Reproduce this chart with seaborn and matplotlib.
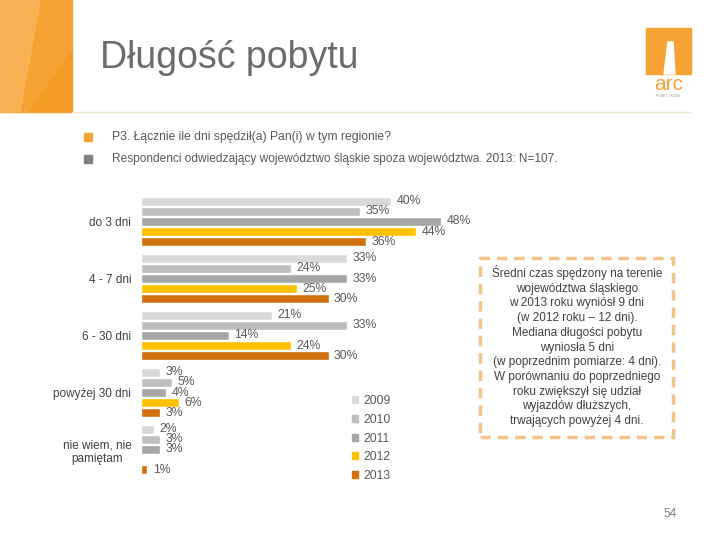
import matplotlib
matplotlib.use("Agg")
import matplotlib.pyplot as plt
from matplotlib.patches import Rectangle, Patch, Polygon
import seaborn as sns
import pandas as pd
import numpy as np

categories = ["do 3 dni", "4 - 7 dni", "6 - 30 dni", "powyżej 30 dni", "nie wiem, nie\npamiętam"]
years = ["2009", "2010", "2011", "2012", "2013"]
v2009 = [40, 33, 21, 3, 2]
v2010 = [35, 24, 33, 5, 3]
v2011 = [48, 33, 14, 4, 3]
v2012 = [44, 25, 24, 6, np.nan]
v2013 = [36, 30, 30, 3, 1]
colors = ["#d9d9d9", "#bfbfbf", "#a6a6a6", "#ffc000", "#d0700f"]

rows = []
for y, vals in zip(years, [v2009, v2010, v2011, v2012, v2013]):
    for c, v in zip(categories, vals):
        rows.append({"kat": c, "rok": y, "proc": v})
df = pd.DataFrame(rows)

sns.set_style("white")
plt.rcParams["font.family"] = ["Liberation Sans", "DejaVu Sans"]

fig = plt.figure(figsize=(7.2, 5.4), dpi=100)

def px(x, y):
    return (x / 720, 1 - y / 540)

# header decoration
fig.patches.append(Rectangle(px(0, 112), 72/720, 112/540, transform=fig.transFigure,
                             color="#f7a234", zorder=0))
fig.patches.append(Polygon([px(0, 0), px(40, 0), px(20, 112), px(0, 112)], closed=True,
                           transform=fig.transFigure, color="#f9b65a", zorder=0, alpha=0.8))
fig.patches.append(Polygon([px(30, 112), px(72, 50), px(72, 112)], closed=True,
                           transform=fig.transFigure, color="#f39a22", zorder=0, alpha=0.8))
fig.lines.append(plt.Line2D([72/720, 690/720], [1 - 112/540] * 2, transform=fig.transFigure,
                            color="#eadfcc", lw=1))
fig.text(100/720, 1 - 58/540, "Długość pobytu", fontsize=27, color="#6b6b6b", va="center")
# logo
fig.patches.append(Rectangle(px(646, 74), 45/720, 46/540, transform=fig.transFigure,
                             color="#f7a234"))
fig.patches.append(Polygon([px(664, 74), px(668, 42), px(673, 42), px(675, 74)], closed=True,
                           transform=fig.transFigure, color="white"))
fig.text(668.5/720, 1 - 84/540, "arc", fontsize=15, color="#f7a234", ha="center", va="center")
fig.text(668.5/720, 1 - 96/540, "PUNKT I KONS", fontsize=2.5, color="#999999",
         ha="center", va="center")

# bullets
fig.patches.append(Rectangle(px(84, 141), 8/720, 8/540, transform=fig.transFigure,
                             color="#f7a234"))
fig.patches.append(Rectangle(px(84, 163), 8/720, 8/540, transform=fig.transFigure,
                             color="#808080"))
fig.text(112/720, 1 - 137/540, "P3. Łącznie ile dni spędził(a) Pan(i) w tym regionie?",
         fontsize=8.7, color="#595959", va="center")
fig.text(112/720, 1 - 159/540,
         "Respondenci odwiedzający województwo śląskie spoza województwa. 2013: N=107.",
         fontsize=8.6, color="#595959", va="center")

ax = fig.add_axes([141/720, 1 - 478/540, 312.5/720, 285/540])
sns.barplot(data=df, y="kat", x="proc", hue="rok", orient="h", palette=colors,
            width=0.88, gap=0.18, ax=ax, legend=False, saturation=1)
ax.set_xlim(0, 50)
ax.set_ylim(4.5, -0.5)
for cont in ax.containers:
    labs = [f"{v:.0f}%" for v in cont.datavalues]
    ax.bar_label(cont, labels=labs, padding=4, fontsize=8.8, color="#595959")
sns.despine(ax=ax, left=True, bottom=True)
ax.set_xticks([])
ax.set_xlabel("")
ax.set_ylabel("")
ax.tick_params(axis="y", length=0, labelsize=8.5, labelcolor="#404040", pad=7)
for t in ax.get_yticklabels():
    t.set_multialignment("center")
ax.set_yticks(np.arange(-0.5, 5, 1), minor=True)
ax.tick_params(axis="y", which="minor", length=3, color="#c0c0c0")

handles = [Patch(color=c) for c in colors]
fig.legend(handles, years, loc="upper left", bbox_to_anchor=px(346, 389),
           frameon=False, fontsize=8.8, handlelength=0.5, handleheight=0.5,
           handletextpad=0.4, labelspacing=0.55, borderpad=0, labelcolor="#595959")

# info box
fig.patches.append(Rectangle(px(480, 437), 193/720, 179/540, transform=fig.transFigure,
                             fill=False, edgecolor="#f2c48a", lw=2.5, linestyle=(0, (3, 2))))
box_text = ("Średni czas spędzony na terenie\nwojewództwa śląskiego\n"
            "w 2013 roku wyniósł 9 dni\n(w 2012 roku – 12 dni).\n"
            "Mediana długości pobytu\nwyniosła 5 dni\n(w poprzednim pomiarze: 4 dni).\n"
            "W porównaniu do poprzedniego\nroku zwiększył się udział\n"
            "wyjazdów dłuższych,\ntrwających powyżej 4 dni.")
fig.text(577/720, 1 - 265/540, box_text, fontsize=8.5, color="#404040", ha="center",
         va="top", linespacing=1.3)

fig.text(670/720, 1 - 514/540, "54", fontsize=8.5, color="#808080", ha="center", va="center")

fig.savefig("out.png", dpi=100)
